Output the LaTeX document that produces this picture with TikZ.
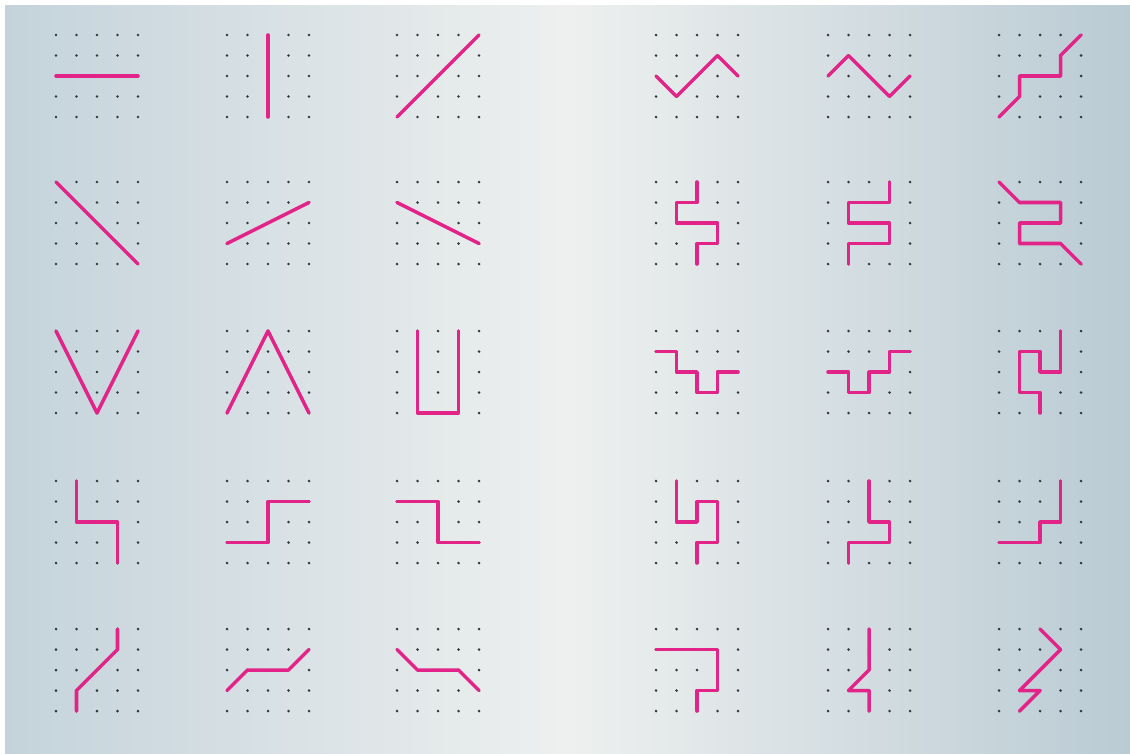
\documentclass[tikz,border=0pt]{standalone}
\usepackage{tikz}
\usetikzlibrary{positioning}
\definecolor{PaperLeft}{RGB}{196,211,219}
\definecolor{PaperMid}{RGB}{238,240,239}
\definecolor{PaperRight}{RGB}{186,203,212}
\definecolor{MarkerPink}{RGB}{226,36,136}
\definecolor{DotGray}{RGB}{50,55,60}
\tikzset{
  dot/.style={fill=DotGray},
  trace/.style={draw=MarkerPink,line width=2pt,line cap=round,line join=round},
  paper/.style={left color=PaperLeft,right color=PaperRight,middle color=PaperMid},
}
% 5x5 dot grid: name, left x, top y
\newcommand{\dotgrid}[3]{%
  \foreach \i in {0,...,4}{
    \foreach \j in {0,...,4}{
      \coordinate (#1-\i-\j) at ({#2+20.5*\i},{#3+20.5*\j});
      \fill[dot] (#1-\i-\j) circle (0.85pt);
    }
  }
}

\begin{document}
\begin{tikzpicture}[x=0.02cm,y=-0.02cm]
\fill[white] (0,0) rectangle (1130,754);
\shade[paper] (5,5) rectangle (1130,754);
\useasboundingbox (0,0) rectangle (1130,754);
% grids
\dotgrid{g11}{56}{35}
\dotgrid{g12}{227}{35}
\dotgrid{g13}{397}{35}
\dotgrid{g14}{656}{35}
\dotgrid{g15}{828}{35}
\dotgrid{g16}{999}{35}
\dotgrid{g21}{56}{182}
\dotgrid{g22}{227}{182}
\dotgrid{g23}{397}{182}
\dotgrid{g24}{656}{182}
\dotgrid{g25}{828}{182}
\dotgrid{g26}{999}{182}
\dotgrid{g31}{56}{331}
\dotgrid{g32}{227}{331}
\dotgrid{g33}{397}{331}
\dotgrid{g34}{656}{331}
\dotgrid{g35}{828}{331}
\dotgrid{g36}{999}{331}
\dotgrid{g41}{56}{481}
\dotgrid{g42}{227}{481}
\dotgrid{g43}{397}{481}
\dotgrid{g44}{656}{481}
\dotgrid{g45}{828}{481}
\dotgrid{g46}{999}{481}
\dotgrid{g51}{56}{629}
\dotgrid{g52}{227}{629}
\dotgrid{g53}{397}{629}
\dotgrid{g54}{656}{629}
\dotgrid{g55}{828}{629}
\dotgrid{g56}{999}{629}
% row 1
\draw[trace] (g11-0-2) -- (g11-4-2);
\draw[trace] (g12-2-0) -- (g12-2-4);
\draw[trace] (g13-0-4) -- (g13-4-0);
\draw[trace] (g14-0-2) -- (g14-1-3) -- (g14-3-1) -- (g14-4-2);
\draw[trace] (g15-0-2) -- (g15-1-1) -- (g15-3-3) -- (g15-4-2);
\draw[trace] (g16-0-4) -- (g16-1-3) -- (g16-1-2) -- (g16-3-2) -- (g16-3-1) -- (g16-4-0);
% row 2
\draw[trace] (g21-0-0) -- (g21-4-4);
\draw[trace] (g22-0-3) -- (g22-4-1);
\draw[trace] (g23-0-1) -- (g23-4-3);
\draw[trace] (g24-2-0) -- (g24-2-1) -- (g24-1-1) -- (g24-1-2) -- (g24-3-2) -- (g24-3-3) -- (g24-2-3) -- (g24-2-4);
\draw[trace] (g25-3-0) -- (g25-3-1) -- (g25-1-1) -- (g25-1-2) -- (g25-3-2) -- (g25-3-3) -- (g25-1-3) -- (g25-1-4);
\draw[trace] (g26-0-0) -- (g26-1-1) -- (g26-3-1) -- (g26-3-2) -- (g26-1-2) -- (g26-1-3) -- (g26-3-3) -- (g26-4-4);
% row 3
\draw[trace] (g31-0-0) -- (g31-2-4) -- (g31-4-0);
\draw[trace] (g32-0-4) -- (g32-2-0) -- (g32-4-4);
\draw[trace] (g33-1-0) -- (g33-1-4) -- (g33-3-4) -- (g33-3-0);
\draw[trace] (g34-0-1) -- (g34-1-1) -- (g34-1-2) -- (g34-2-2) -- (g34-2-3) -- (g34-3-3) -- (g34-3-2) -- (g34-4-2);
\draw[trace] (g35-0-2) -- (g35-1-2) -- (g35-1-3) -- (g35-2-3) -- (g35-2-2) -- (g35-3-2) -- (g35-3-1) -- (g35-4-1);
\draw[trace] (g36-3-0) -- (g36-3-2) -- (g36-2-2) -- (g36-2-1) -- (g36-1-1) -- (g36-1-3) -- (g36-2-3) -- (g36-2-4);
% row 4
\draw[trace] (g41-1-0) -- (g41-1-2) -- (g41-3-2) -- (g41-3-4);
\draw[trace] (g42-0-3) -- (g42-2-3) -- (g42-2-1) -- (g42-4-1);
\draw[trace] (g43-0-1) -- (g43-2-1) -- (g43-2-3) -- (g43-4-3);
\draw[trace] (g44-1-0) -- (g44-1-2) -- (g44-2-2) -- (g44-2-1) -- (g44-3-1) -- (g44-3-3) -- (g44-2-3) -- (g44-2-4);
\draw[trace] (g45-2-0) -- (g45-2-2) -- (g45-3-2) -- (g45-3-3) -- (g45-1-3) -- (g45-1-4);
\draw[trace] (g46-3-0) -- (g46-3-2) -- (g46-2-2) -- (g46-2-3) -- (g46-0-3);
% row 5
\draw[trace] (g51-3-0) -- (g51-3-1) -- (g51-1-3) -- (g51-1-4);
\draw[trace] (g52-0-3) -- (g52-1-2) -- (g52-3-2) -- (g52-4-1);
\draw[trace] (g53-0-1) -- (g53-1-2) -- (g53-3-2) -- (g53-4-3);
\draw[trace] (g54-0-1) -- (g54-3-1) -- (g54-3-3) -- (g54-2-3) -- (g54-2-4);
\draw[trace] (g55-2-0) -- (g55-2-2) -- (g55-1-3) -- (g55-2-3) -- (g55-2-4);
\draw[trace] (g56-2-0) -- (g56-3-1) -- (g56-1-3) -- (g56-2-3) -- (g56-1-4);
\end{tikzpicture}
\end{document}
